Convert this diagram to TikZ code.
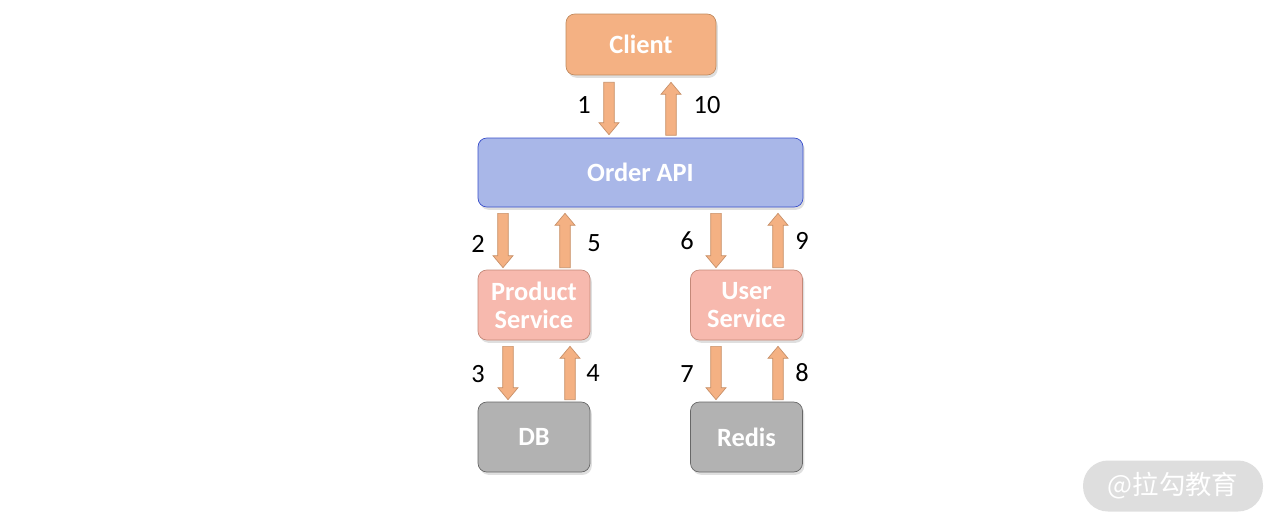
\documentclass[tikz,border=0pt]{standalone}
\usepackage{fontspec}
\setmainfont{Carlito}
\newfontfamily\cjkfont{Noto Sans CJK SC}
\usetikzlibrary{calc,shadows}

\definecolor{clientfill}{HTML}{F4B183}
\definecolor{clientdraw}{HTML}{C08A5E}
\definecolor{apifill}{HTML}{A9B7E8}
\definecolor{apidraw}{HTML}{3A4FCB}
\definecolor{svcfill}{HTML}{F7B9AE}
\definecolor{svcdraw}{HTML}{C48878}
\definecolor{storefill}{HTML}{B2B2B2}
\definecolor{storedraw}{HTML}{676767}
\definecolor{arrowdraw}{HTML}{C8916A}
\definecolor{markfill}{HTML}{DEDEDE}

% vertical block arrow from #1 to #2 (x taken from #1)
\newcommand{\flowarrow}[2]{%
  \draw[flow] let \p1=(#1), \p2=(#2), \n1={sign(\y2-\y1)} in
    (\x1-3pt,\y1) -- (\x1-3pt,\y2-\n1*6.8pt) -- (\x1-5.7pt,\y2-\n1*6.8pt) -- (\x1,\y2)
    -- (\x1+5.7pt,\y2-\n1*6.8pt) -- (\x1+3pt,\y2-\n1*6.8pt) -- (\x1+3pt,\y1) -- cycle;
}

\begin{document}
\begin{tikzpicture}[x=0.02cm, y=-0.02cm,
      every node/.style={font=\fontsize{15}{16}\selectfont},
      box/.style={rectangle, rounded corners=5pt, thin, align=center, inner sep=0pt, text=white,
        font=\fontsize{15}{16}\selectfont\bfseries,
        drop shadow={shadow xshift=1pt, shadow yshift=-1.6pt, opacity=0.25}},
      client/.style={box, fill=clientfill, draw=clientdraw, minimum width=3cm, minimum height=1.22cm},
      api/.style={box, fill=apifill, draw=apidraw, minimum width=6.5cm, minimum height=1.38cm},
      service/.style={box, fill=svcfill, draw=svcdraw, minimum width=2.24cm, minimum height=1.4cm},
      store/.style={box, fill=storefill, draw=storedraw, minimum width=2.24cm, minimum height=1.4cm},
      flow/.style={fill=clientfill, draw=arrowdraw, line width=0.4pt},
      step label/.style={inner sep=0pt, text=black}
  ]
    \useasboundingbox (0,0) rectangle (1280,528);

    \node[client] (client) at (641,44.5) {Client};
    \node[api] (order) at (640.5,172.5) {Order API};
    \node[service] (product) at (534,305) {Product\\Service};
    \node[service] (user) at (746.5,305) {User\\Service};
    \node[store] (db) at (534,437) {DB};
    \node[store] (redis) at (746.5,437) {Redis};

    \flowarrow{$(client.south)+(-32,7)$}{$(order.north)+(0,-3)$}
    \flowarrow{$(client.south)+(30,60)$}{$(client.south)+(0,7)$}
    \flowarrow{$(product.north |- order.south)+(-31,6)$}{$(product.north)+(0,-2)$}
    \flowarrow{$(product.north)+(31,-2)$}{$(order.south)+(0,6)$}
    \flowarrow{$(user.north |- order.south)+(-30.5,6)$}{$(user.north)+(0,-2)$}
    \flowarrow{$(user.north)+(31.5,-2)$}{$(order.south)+(0,6)$}
    \flowarrow{$(product.south)+(-26,6)$}{$(db.north)+(0,-2)$}
    \flowarrow{$(db.north)+(36,-2)$}{$(product.south)+(0,6)$}
    \flowarrow{$(user.south)+(-30.5,6)$}{$(redis.north)+(0,-2)$}
    \flowarrow{$(redis.north)+(31.5,-2)$}{$(user.south)+(0,6)$}

    \node[step label] (s1) at (584,105) {1};
    \node[step label] (s10) at (707,105) {10};
    \node[step label] (s2) at (478,244) {2};
    \node[step label] (s5) at (594,243) {5};
    \node[step label] (s6) at (687,241) {6};
    \node[step label] (s9) at (802,241) {9};
    \node[step label] (s3) at (478,374) {3};
    \node[step label] (s4) at (593,373) {4};
    \node[step label] (s7) at (687,374) {7};
    \node[step label] (s8) at (802,373) {8};

    \node[fill=markfill, rounded corners=0.5cm, minimum width=3.6cm, minimum height=1.02cm, inner sep=0pt,
      text=white, font=\cjkfont\fontsize{15}{16}\selectfont] (mark) at (1173,486) {@拉勾教育};
  \end{tikzpicture}
\end{document}
